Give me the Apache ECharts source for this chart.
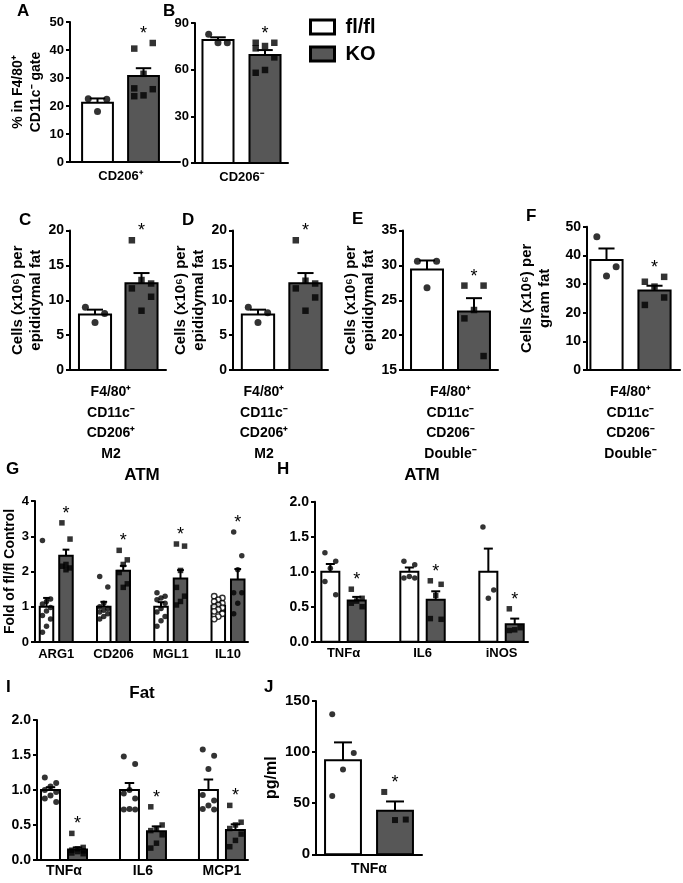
<!DOCTYPE html>
<html><head><meta charset="utf-8">
<script src="https://cdn.jsdelivr.net/npm/echarts@6/dist/echarts.min.js"></script>
<style>html,body{margin:0;padding:0;background:#fff}#chart{width:683px;height:883px}</style>
</head><body><div id="chart"></div>
<script>
// ===================== DATA =====================
// Panel A
const A_categories = ['CD206⁺'];
const A_yTicks = [0, 10, 20, 30, 40, 50];
const A_yTitle = '% in F4/80⁺\nCD11c⁻ gate';
const A_flfl_mean = [21.2];
const A_flfl_sem = [1.5];
const A_ko_mean = [30.7];
const A_ko_sem = [2.8];
const A_flfl_points = [[22.6, 22.4, 18.0]];
const A_ko_points = [[40.5, 42.5, 31.5, 26.3, 26.0, 23.8, 23.5]];
const A_sig = [true];
// Panel B
const B_categories = ['CD206⁻'];
const B_yTicks = [0, 30, 60, 90];
const B_flfl_mean = [79.1];
const B_flfl_sem = [1.7];
const B_ko_mean = [69.4];
const B_ko_sem = [3.2];
const B_flfl_points = [[82.7, 77.3, 77.3]];
const B_ko_points = [[77.3, 77.3, 75.2, 73.7, 67.9, 59.8, 58.0]];
const B_sig = [true];
// Panel C
const C_categories = ['F4/80⁺\nCD11c⁻\nCD206⁺\nM2'];
const C_yTicks = [0, 5, 10, 15, 20];
const C_yTitle = 'Cells (x10⁶) per\nepididymal fat';
const C_flfl_mean = [7.95];
const C_flfl_sem = [0.7];
const C_ko_mean = [12.45];
const C_ko_sem = [1.45];
const C_flfl_points = [[9.0, 8.1, 6.8]];
const C_ko_points = [[18.6, 12.4, 12.9, 11.7, 10.5, 8.5]];
const C_sig = [true];
// Panel D
const D_categories = ['F4/80⁺\nCD11c⁻\nCD206⁺\nM2'];
const D_yTicks = [0, 5, 10, 15, 20];
const D_yTitle = 'Cells (x10⁶) per\nepididymal fat';
const D_flfl_mean = [7.95];
const D_flfl_sem = [0.7];
const D_ko_mean = [12.45];
const D_ko_sem = [1.45];
const D_flfl_points = [[9.0, 8.2, 6.8]];
const D_ko_points = [[18.6, 12.4, 12.8, 11.7, 10.4, 8.5]];
const D_sig = [true];
// Panel E
const E_categories = ['F4/80⁺\nCD11c⁻\nCD206⁻\nDouble⁻'];
const E_yTicks = [15, 20, 25, 30, 35];
const E_yTitle = 'Cells (x10⁶) per\nepididymal fat';
const E_flfl_mean = [29.4];
const E_flfl_sem = [1.3];
const E_ko_mean = [23.4];
const E_ko_sem = [1.9];
const E_flfl_points = [[30.6, 30.6, 26.8]];
const E_ko_points = [[27.1, 27.1, 23.6, 22.4, 17.0]];
const E_sig = [true];
// Panel F
const F_categories = ['F4/80⁺\nCD11c⁻\nCD206⁻\nDouble⁻'];
const F_yTicks = [0, 10, 20, 30, 40, 50];
const F_yTitle = 'Cells (x10⁶) per\ngram fat';
const F_flfl_mean = [38.4];
const F_flfl_sem = [4.0];
const F_ko_mean = [27.7];
const F_ko_sem = [1.7];
const F_flfl_points = [[46.5, 36.0, 32.8]];
const F_ko_points = [[30.8, 32.5, 29.1, 22.7, 25.3]];
const F_sig = [true];
// Panel G  (ATM)
const G_categories = ['ARG1', 'CD206', 'MGL1', 'IL10'];
const G_yTicks = [0, 1, 2, 3, 4];
const G_yTitle = 'Fold of fl/fl Control';
const G_title = 'ATM';
const G_flfl_mean = [1.0, 1.0, 1.0, 1.03];
const G_flfl_sem = [0.25, 0.14, 0.13, 0.07];
const G_ko_mean = [2.45, 2.02, 1.80, 1.77];
const G_ko_sem = [0.17, 0.14, 0.24, 0.30];
const G_flfl_points = [
  [2.88, 1.22, 1.15, 1.08, 0.98, 0.88, 0.75, 0.65, 0.45, 0.28],
  [1.86, 1.56, 1.1, 1.0, 0.95, 0.9, 0.85, 0.8, 0.72, 0.65],
  [1.4, 1.3, 1.25, 1.2, 1.1, 0.95, 0.85, 0.72, 0.6, 0.45],
  [1.3, 1.25, 1.2, 1.15, 1.1, 1.05, 1.0, 0.97, 0.92, 0.87, 0.8, 0.72, 0.65]
];
const G_ko_points = [
  [3.38, 2.92, 2.2, 2.15, 2.1, 2.05],
  [2.6, 2.33, 2.2, 1.97, 1.65, 1.55],
  [2.78, 2.72, 2.03, 1.55, 1.3, 1.15, 1.05],
  [3.12, 2.45, 2.05, 1.4, 1.4, 1.1, 0.8]
];
const G_sig = [true, true, true, true];
// Panel H  (ATM)
const H_categories = ['TNFα', 'IL6', 'iNOS'];
const H_yTicks = [0, 0.5, 1.0, 1.5, 2.0];
const H_title = 'ATM';
const H_flfl_mean = [1.0, 1.0, 1.0];
const H_flfl_sem = [0.11, 0.06, 0.33];
const H_ko_mean = [0.59, 0.60, 0.25];
const H_ko_sem = [0.05, 0.12, 0.08];
const H_flfl_points = [[1.27, 1.15, 1.05, 0.86, 0.67], [1.15, 1.1, 0.93, 0.91, 0.91], [1.64, 0.74, 0.62]];
const H_ko_points = [[0.75, 0.62, 0.58, 0.55, 0.5], [0.87, 0.82, 0.66, 0.33, 0.32], [0.47, 0.2, 0.17, 0.16]];
const H_sig = [true, true, true];
// Panel I  (Fat)
const I_categories = ['TNFα', 'IL6', 'MCP1'];
const I_yTicks = [0, 0.5, 1.0, 1.5, 2.0];
const I_title = 'Fat';
const I_flfl_mean = [1.0, 1.0, 1.0];
const I_flfl_sem = [0.04, 0.1, 0.15];
const I_ko_mean = [0.15, 0.41, 0.43];
const I_ko_sem = [0.03, 0.07, 0.08];
const I_flfl_points = [
  [1.18, 1.1, 1.05, 1.0, 0.97, 0.92, 0.88, 0.83],
  [1.48, 1.37, 1.0, 0.95, 0.88, 0.73, 0.72, 0.72],
  [1.58, 1.49, 1.3, 0.93, 0.85, 0.78, 0.73, 0.72]
];
const I_ko_points = [
  [0.38, 0.18, 0.16, 0.14, 0.13, 0.12, 0.1, 0.09],
  [0.76, 0.5, 0.45, 0.42, 0.36, 0.24, 0.17],
  [0.78, 0.54, 0.5, 0.45, 0.37, 0.28, 0.19]
];
const I_sig = [true, true, true];
// Panel J
const J_categories = ['TNFα'];
const J_yTicks = [0, 50, 100, 150];
const J_yTitle = 'pg/ml';
const J_flfl_mean = [92];
const J_flfl_sem = [17.5];
const J_ko_mean = [42.7];
const J_ko_sem = [9];
const J_flfl_points = [[137, 99, 83, 57]];
const J_ko_points = [[61, 34, 33.5]];
const J_sig = [true];

// ===================== STYLE / LAYOUT =====================
const FONT = '"Liberation Sans", Arial, Helvetica, sans-serif';
const FL_FILL = '#ffffff';
const KO_FILL = '#575757';

function panel(d, L) { return Object.assign({}, d, L); }
const PANELS = [
  panel({cats:A_categories, yTicks:A_yTicks, yName:A_yTitle, flMean:A_flfl_mean, flSem:A_flfl_sem, koMean:A_ko_mean, koSem:A_ko_sem, flPts:A_flfl_points, koPts:A_ko_points, sig:A_sig},
        {grid:[70,22,110,140], x:[-1.098,1.293], half:0.5, bw:0.67, tick:13, cat:13, catLH:16, catMargin:6, nameSize:14, nameLH:18, nameGap:22, dot:7, sq:6.5, dec:0}),
  panel({cats:B_categories, yTicks:B_yTicks, yName:'', flMean:B_flfl_mean, flSem:B_flfl_sem, koMean:B_ko_mean, koSem:B_ko_sem, flPts:B_flfl_points, koPts:B_ko_points, sig:B_sig},
        {grid:[195,23,93,140], x:[-0.989,0.989], half:0.5, bw:0.66, tick:13, cat:13, catLH:16, catMargin:6, nameSize:14, nameLH:18, nameGap:24, dot:7, sq:6.5, dec:0}),
  panel({cats:C_categories, yTicks:C_yTicks, yName:C_yTitle, flMean:C_flfl_mean, flSem:C_flfl_sem, koMean:C_ko_mean, koSem:C_ko_sem, flPts:C_flfl_points, koPts:C_ko_points, sig:C_sig},
        {grid:[70,230.5,96,139.5], x:[-1.038,1.027], half:0.5, bw:0.69, labelAt:[-0.156], tick:14, cat:14, catLH:20.5, catMargin:12, nameSize:15, nameLH:18, nameGap:22, dot:7, sq:6.5, dec:0}),
  panel({cats:D_categories, yTicks:D_yTicks, yName:D_yTitle, flMean:D_flfl_mean, flSem:D_flfl_sem, koMean:D_ko_mean, koSem:D_ko_sem, flPts:D_flfl_points, koPts:D_ko_points, sig:D_sig},
        {grid:[233,230.5,95,139.5], x:[-1.026,0.974], half:0.5, bw:0.68, labelAt:[-0.374], tick:14, cat:14, catLH:20.5, catMargin:12, nameSize:15, nameLH:18, nameGap:17, dot:7, sq:6.5, dec:0}),
  panel({cats:E_categories, yTicks:E_yTicks, yName:E_yTitle, flMean:E_flfl_mean, flSem:E_flfl_sem, koMean:E_ko_mean, koSem:E_ko_sem, flPts:E_flfl_points, koPts:E_ko_points, sig:E_sig},
        {grid:[403,230.5,95,139.5], x:[-1.011,1.011], half:0.5, bw:0.68, tick:14, cat:14, catLH:20.5, catMargin:12, nameSize:15, nameLH:18, nameGap:17, dot:7, sq:6.5, dec:0}),
  panel({cats:F_categories, yTicks:F_yTicks, yName:F_yTitle, flMean:F_flfl_mean, flSem:F_flfl_sem, koMean:F_ko_mean, koSem:F_ko_sem, flPts:F_flfl_points, koPts:F_ko_points, sig:F_sig},
        {grid:[587,226.7,93,143.3], x:[-0.906,1.031], half:0.5, bw:0.67, tick:14, cat:14, catLH:20.5, catMargin:12, nameSize:15, nameLH:18, nameGap:33, dot:7, sq:6.5, dec:0}),
  panel({cats:G_categories, yTicks:G_yTicks, yName:G_yTitle, flMean:G_flfl_mean, flSem:G_flfl_sem, koMean:G_ko_mean, koSem:G_ko_sem, flPts:G_flfl_points, koPts:G_ko_points, sig:G_sig},
        {grid:[35,501,213,141], x:[-0.371,3.349], half:0.17, bw:0.236, tick:13, cat:13, catLH:16, catMargin:4, nameSize:14, nameLH:16, nameGap:15, dot:5.5, sq:5.5, dec:0,
         koSymbol:['rect','rect','rect','circle'], flHollow:[false,false,false,true]}),
  panel({cats:H_categories, yTicks:H_yTicks, yName:'', flMean:H_flfl_mean, flSem:H_flfl_sem, koMean:H_ko_mean, koSem:H_ko_sem, flPts:H_flfl_points, koPts:H_ko_points, sig:H_sig},
        {grid:[315,501.7,213,140], x:[-0.361,2.335], half:0.167, bw:0.228, tick:14, cat:13, catLH:16, catMargin:4, nameSize:14, nameLH:16, nameGap:16, dot:5.5, sq:5.5, dec:1}),
  panel({cats:I_categories, yTicks:I_yTicks, yName:'', flMean:I_flfl_mean, flSem:I_flfl_sem, koMean:I_ko_mean, koSem:I_ko_sem, flPts:I_flfl_points, koPts:I_ko_points, sig:I_sig},
        {grid:[37,720,211,140], x:[-0.342,2.33], half:0.171, bw:0.24, tick:14, cat:14, catLH:16, catMargin:3, nameSize:14, nameLH:16, nameGap:16, dot:6, sq:5.5, dec:1}),
  panel({cats:J_categories, yTicks:J_yTicks, yName:J_yTitle, flMean:J_flfl_mean, flSem:J_flfl_sem, koMean:J_ko_mean, koSem:J_ko_sem, flPts:J_flfl_points, koPts:J_ko_points, sig:J_sig},
        {grid:[316,701,106,153.3], x:[-1.019,1.019], half:0.5, bw:0.69, tick:15, cat:14, catLH:16, catMargin:7, nameSize:16, nameLH:18, nameGap:34, dot:6, sq:6, dec:0})
];

const grids = [], xAxes = [], yAxes = [], series = [];
const JIT = [-1, 1, 0];

function makeBar(bw, base, fill) {
  return function (params, api) {
    const x = api.value(0), y = api.value(1);
    const tl = api.coord([x - bw / 2, y]);
    const br = api.coord([x + bw / 2, base]);
    return {type: 'rect', shape: {x: tl[0], y: tl[1], width: br[0] - tl[0], height: br[1] - tl[1]},
            style: {fill: fill, stroke: '#000', lineWidth: 2}};
  };
}
function makeErr(bw) {
  return function (params, api) {
    const x = api.value(0), m = api.value(1), s = api.value(2);
    const p0 = api.coord([x, m]), p1 = api.coord([x, m + s]);
    const cw = api.size([bw * 0.5, 0])[0];
    return {type: 'group', children: [
      {type: 'line', shape: {x1: p0[0], y1: p0[1], x2: p1[0], y2: p1[1]}, style: {stroke: '#000', lineWidth: 2}},
      {type: 'line', shape: {x1: p1[0] - cw / 2, y1: p1[1], x2: p1[0] + cw / 2, y2: p1[1]}, style: {stroke: '#000', lineWidth: 2}}
    ]};
  };
}
function makeStar() {
  return function (params, api) {
    const c = api.coord([api.value(0), api.value(1)]);
    return {type: 'text', x: c[0], y: c[1] - 9,
            style: {text: '*', font: '18px ' + FONT, fill: '#000', align: 'center', verticalAlign: 'middle'}};
  };
}

PANELS.forEach(function (P, i) {
  const yMin = P.yTicks[0], yMax = P.yTicks[P.yTicks.length - 1];
  const labelAt = P.labelAt || P.cats.map(function (c, g) { return g; });
  grids.push({left: P.grid[0], top: P.grid[1], width: P.grid[2], height: P.grid[3]});
  xAxes.push({
    gridIndex: i, type: 'value', min: P.x[0], max: P.x[1],
    axisLine: {show: true, onZero: false, lineStyle: {color: '#000', width: 2}},
    axisTick: {show: false}, splitLine: {show: false},
    axisLabel: {
      customValues: labelAt,
      formatter: function (v) {
        let k = 0, best = 1e9;
        labelAt.forEach(function (a, j) { if (Math.abs(a - v) < best) { best = Math.abs(a - v); k = j; } });
        return P.cats[k];
      },
      color: '#000', fontFamily: FONT, fontWeight: 'bold', fontSize: P.cat, lineHeight: P.catLH, margin: P.catMargin
    }
  });
  yAxes.push({
    gridIndex: i, type: 'value', min: yMin, max: yMax, interval: P.yTicks[1] - P.yTicks[0],
    name: P.yName, nameLocation: 'middle', nameRotate: 90, nameGap: P.nameGap,
    nameTextStyle: {color: '#000', fontFamily: FONT, fontWeight: 'bold', fontSize: P.nameSize, lineHeight: P.nameLH},
    axisLine: {show: true, onZero: false, lineStyle: {color: '#000', width: 2}},
    axisTick: {show: true, length: 4, lineStyle: {color: '#000', width: 2}},
    splitLine: {show: false},
    axisLabel: {color: '#000', fontFamily: FONT, fontWeight: 'bold', fontSize: P.tick, margin: 6,
                formatter: function (v) { return v.toFixed(P.dec); }}
  });
  const xFl = function (g) { return g - P.half; };
  const xKo = function (g) { return g + P.half; };
  series.push({type: 'custom', name: 'fl/fl', xAxisIndex: i, yAxisIndex: i, z: 2, clip: false, silent: true,
    itemStyle: {color: FL_FILL}, renderItem: makeBar(P.bw, yMin, FL_FILL),
    data: P.flMean.map(function (m, g) { return [xFl(g), m]; })});
  series.push({type: 'custom', name: 'KO', xAxisIndex: i, yAxisIndex: i, z: 2, clip: false, silent: true,
    itemStyle: {color: KO_FILL}, renderItem: makeBar(P.bw, yMin, KO_FILL),
    data: P.koMean.map(function (m, g) { return [xKo(g), m]; })});
  series.push({type: 'custom', name: 'SEM', xAxisIndex: i, yAxisIndex: i, z: 3, clip: false, silent: true,
    renderItem: makeErr(P.bw),
    data: P.flMean.map(function (m, g) { return [xFl(g), m, P.flSem[g]]; })
      .concat(P.koMean.map(function (m, g) { return [xKo(g), m, P.koSem[g]]; }))});
  const pts = [];
  const jw = P.bw * 0.3;
  P.flPts.forEach(function (arr, g) {
    const hollow = P.flHollow && P.flHollow[g];
    arr.forEach(function (v, k) {
      pts.push({value: [xFl(g) + JIT[k % 3] * jw, v], symbol: 'circle', symbolSize: P.dot,
        itemStyle: hollow ? {color: '#fff', borderColor: '#000', borderWidth: 1.4} : {color: '#000'}});
    });
  });
  P.koPts.forEach(function (arr, g) {
    const sym = P.koSymbol ? P.koSymbol[g] : 'rect';
    arr.forEach(function (v, k) {
      pts.push({value: [xKo(g) + JIT[k % 3] * jw, v], symbol: sym, symbolSize: sym === 'rect' ? P.sq : P.dot,
        itemStyle: {color: '#000'}});
    });
  });
  series.push({type: 'scatter', name: 'points', xAxisIndex: i, yAxisIndex: i, z: 4, clip: false, silent: true, data: pts});
  const stars = [];
  P.koMean.forEach(function (m, g) {
    if (P.sig[g]) stars.push([xKo(g), Math.max(m + P.koSem[g], Math.max.apply(null, P.koPts[g]))]);
  });
  series.push({type: 'custom', name: 'sig', xAxisIndex: i, yAxisIndex: i, z: 5, clip: false, silent: true,
    renderItem: makeStar(), data: stars});
});

const LETTER = 'bold 17px ' + FONT;
const TITLE = 'bold 17px ' + FONT;
function letter(t, x, y) { return {type: 'text', left: x, top: y, style: {text: t, font: LETTER, fill: '#000'}}; }
function ttl(t, x, y) { return {type: 'text', x: x, y: y, style: {text: t, font: TITLE, fill: '#000', align: 'center', verticalAlign: 'middle'}}; }

const option = {
  animation: false,
  backgroundColor: '#fff',
  grid: grids, xAxis: xAxes, yAxis: yAxes, series: series,
  legend: {
    orient: 'vertical', left: 304, top: 12, itemWidth: 24, itemHeight: 14, itemGap: 7, icon: 'rect',
    selectedMode: false,
    data: [
      {name: 'fl/fl', itemStyle: {color: FL_FILL, borderColor: '#000', borderWidth: 3}},
      {name: 'KO', itemStyle: {color: KO_FILL, borderColor: '#000', borderWidth: 3}}
    ],
    textStyle: {color: '#000', fontFamily: FONT, fontWeight: 'bold', fontSize: 20, padding: [0, 0, 0, 6]}
  },
  graphic: [
    letter('A', 17, 3), letter('B', 163, 3), letter('C', 19, 212), letter('D', 182, 212),
    letter('E', 352, 211), letter('F', 526, 208), letter('G', 6, 461), letter('H', 277, 461),
    letter('I', 6, 679), letter('J', 264, 679),
    ttl(G_title, 142, 475), ttl(H_title, 422, 475), ttl(I_title, 142, 693)
  ]
};
const chart = echarts.init(document.getElementById('chart'), null, {renderer: 'canvas'});
chart.setOption(option);
</script></body></html>
